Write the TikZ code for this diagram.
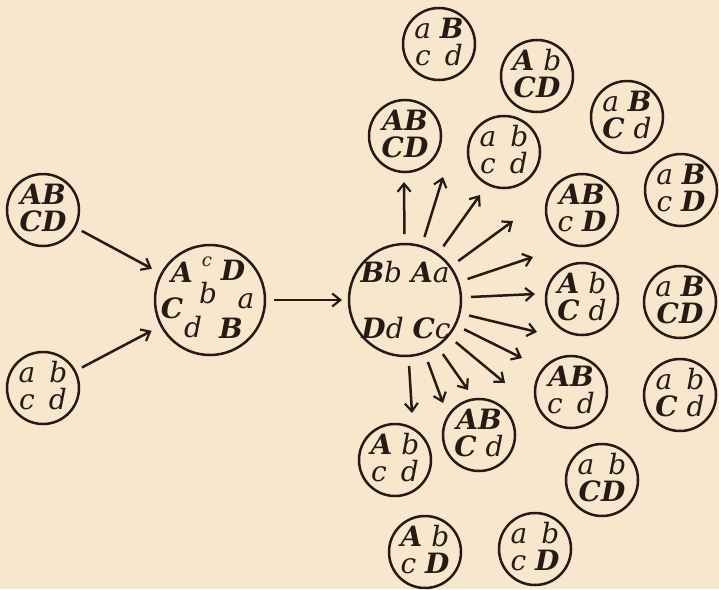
\documentclass[tikz,border=0pt]{standalone}
\usepackage{fontspec}
\setmainfont{DejaVu Serif}
\usetikzlibrary{arrows.meta,calc}
\definecolor{bg}{RGB}{247,231,205}
\definecolor{ink}{RGB}{38,26,20}
\newcommand\Cp[1]{{\bfseries\itshape #1}}
\newcommand\Lw[1]{{\itshape #1}}
\newcommand\wsp{\hspace{0.5em}}
\tikzset{
  ring/.style={circle, draw=ink, line width=2.5pt, minimum size=72pt, inner sep=0pt, outer sep=0pt},
  bigring/.style={ring, minimum size=112pt},
  txt/.style={anchor=base, inner sep=0pt, outer sep=0pt, text=ink, font=\fontsize{28}{30}\selectfont},
  smalltxt/.style={txt, font=\fontsize{18}{20}\selectfont},
  arr/.style={draw=ink, line width=2.5pt, -{Straight Barb[length=8pt,width=13pt,line width=2.2pt]}}
}
% name, position, top row, bottom row
\newcommand\outc[4]{%
  \node[ring] (#1) at (#2) {};
  \node[txt] (#1-t) at ($(#1)+(0,-6)$) {#3};
  \node[txt] (#1-b) at ($(#1)+(0,21)$) {#4};
}
\begin{document}
\begin{tikzpicture}[x=1pt,y=-1pt]
\useasboundingbox (0,0) rectangle (719,589);
\fill[bg] (0,0) rectangle (719,589);

% parents
\outc{p1}{43,210}{\Cp{A}\Cp{B}}{\Cp{C}\Cp{D}}
\outc{p2}{43,388}{\Lw{a}\wsp\Lw{b}}{\Lw{c}\wsp\Lw{d}}

% hybrid
\node[bigring, minimum size=110pt] (mid) at (210,300) {};
\node[txt] (m-A) at (182,282) {\Cp{A}};
\node[smalltxt] (m-c) at (207,266) {\Lw{c}};
\node[txt] (m-D) at (233,280) {\Cp{D}};
\node[txt] (m-C) at (172,318) {\Cp{C}};
\node[txt] (m-b) at (208,303) {\Lw{b}};
\node[txt] (m-a) at (246,308) {\Lw{a}};
\node[txt] (m-d) at (193,337) {\Lw{d}};
\node[txt] (m-B) at (231,338) {\Cp{B}};

% gametes
\node[bigring] (R) at (405,300) {};
\node[txt] (R-t) at (405,282) {\Cp{B}\Lw{b} \Cp{A}\Lw{a}};
\node[txt] (R-b) at (406,338) {\Cp{D}\Lw{d} \Cp{C}\Lw{c}};

% arrows in
\draw[arr, shorten <=8pt, shorten >=11pt] (p1) -- (mid);
\draw[arr, shorten <=8pt, shorten >=11pt] (p2) -- (mid);
\draw[arr, shorten <=9pt, shorten >=7pt] (mid) -- (R);

% fan ends
\coordinate (e1) at (404,182);
\coordinate (e2) at (443,177);
\coordinate (e3) at (480,195);
\coordinate (e4) at (513,221);
\coordinate (e5) at (533,257);
\coordinate (e6) at (535,294);
\coordinate (e7) at (537,332);
\coordinate (e8) at (522,358);
\coordinate (e9) at (505,383);
\coordinate (e10) at (468,390);
\coordinate (e11) at (443,403);
\coordinate (e12) at (412,413);
\foreach \k in {1,...,12}{
  \draw[arr, shorten <=10pt] (R) -- (e\k);
}

% offspring
\outc{o1}{439,44}{\Lw{a} \Cp{B}}{\Lw{c}\wsp\Lw{d}}
\outc{o2}{537,76}{\Cp{A} \Lw{b}}{\Cp{C}\Cp{D}}
\outc{o3}{627,117}{\Lw{a} \Cp{B}}{\Cp{C} \Lw{d}}
\outc{o4}{405,136}{\Cp{A}\Cp{B}}{\Cp{C}\Cp{D}}
\outc{o5}{504,152}{\Lw{a}\wsp\Lw{b}}{\Lw{c}\wsp\Lw{d}}
\outc{o6}{681,190}{\Lw{a} \Cp{B}}{\Lw{c} \Cp{D}}
\outc{o7}{582,210}{\Cp{A}\Cp{B}}{\Lw{c} \Cp{D}}
\outc{o8}{582,299}{\Cp{A} \Lw{b}}{\Cp{C} \Lw{d}}
\outc{o9}{680,302}{\Lw{a} \Cp{B}}{\Cp{C}\Cp{D}}
\outc{o10}{571,392}{\Cp{A}\Cp{B}}{\Lw{c}\wsp\Lw{d}}
\outc{o11}{680,395}{\Lw{a}\wsp\Lw{b}}{\Cp{C} \Lw{d}}
\outc{o12}{479,435}{\Cp{A}\Cp{B}}{\Cp{C} \Lw{d}}
\outc{o13}{395,460}{\Cp{A} \Lw{b}}{\Lw{c}\wsp\Lw{d}}
\outc{o14}{602,480}{\Lw{a}\wsp\Lw{b}}{\Cp{C}\Cp{D}}
\outc{o15}{425,552}{\Cp{A} \Lw{b}}{\Lw{c} \Cp{D}}
\outc{o16}{535,549}{\Lw{a}\wsp\Lw{b}}{\Lw{c} \Cp{D}}
\end{tikzpicture}
\end{document}
